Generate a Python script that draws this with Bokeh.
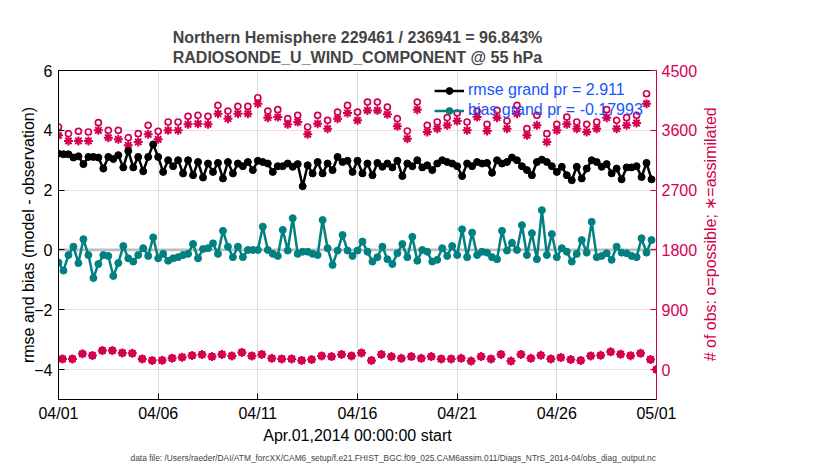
import numpy as np
from bokeh.plotting import figure
from bokeh.layouts import row
from bokeh.models import (LinearAxis, Range1d, FixedTicker, Span, Legend,
                          LegendItem, Title, ColumnDataSource, Label)
from bokeh.embed import file_html
from bokeh.resources import INLINE

# ---------------- data ----------------
title_text = "Northern Hemisphere 229461 / 236941 = 96.843%\nRADIOSONDE_U_WIND_COMPONENT @ 55 hPa"
x_tick_days = [0, 5, 10, 15, 20, 25, 30]
x_tick_labels = ["04/01", "04/06", "04/11", "04/16", "04/21", "04/26", "05/01"]
left_ticks = [-4, -2, 0, 2, 4, 6]
right_ticks = [0, 900, 1800, 2700, 3600, 4500]

# rmse / bias every 6 hours (prior/posterior sawtooth), days since Apr 1
rmse = [3.22, 3.20, 3.20, 3.09, 3.13, 2.87, 3.11, 3.11, 3.09, 2.72, 3.11, 3.04, 3.17, 2.76, 3.31, 2.76,
        3.11, 2.63, 3.11, 3.53, 3.11, 2.61, 3.00, 2.80, 3.00, 2.56, 3.00, 2.50, 2.94, 2.42, 2.89,
        2.61, 2.91, 2.39, 2.94, 2.56, 2.89, 2.80, 2.94, 2.67, 2.98, 2.94, 2.89, 2.61, 2.80, 2.80, 2.89,
        2.78, 2.87, 2.13, 2.83, 2.56, 2.94, 2.56, 2.89, 2.67, 3.11, 2.94, 2.98, 2.61, 2.98, 2.56, 2.89,
        2.50, 2.91, 2.78, 2.89, 2.76, 2.98,
        2.47, 2.89, 2.80, 3.00, 2.76, 2.83, 2.67, 2.89, 3.00, 2.94, 2.89, 2.80, 2.47, 2.89, 2.80, 2.94,
        2.89, 2.91, 2.58, 3.00, 2.89, 2.94, 3.09, 3.00, 2.80, 2.67, 2.50, 2.94, 3.02, 2.94, 2.80, 2.61,
        2.78, 2.50, 2.33, 2.78, 2.39, 2.72, 3.00, 2.94,
        2.78, 2.87, 2.56, 2.72, 2.36, 2.76, 2.76, 2.80, 2.44, 2.91, 2.36]
bias = [-0.42, -0.69, -0.17, 0.11, -0.44, 0.36, -0.17, -0.94, -0.47, -0.17, -0.20, -0.87, -0.44, 0.13,
        -0.28, -0.39, -0.17, 0.06, -0.20, 0.42, -0.28, -0.13, -0.36, -0.28, -0.24, -0.17, -0.13, 0.20, -0.28,
        0.03, 0.06, 0.22, -0.13, 0.64, 0.11, -0.24, 0.11, -0.24, 0.00, 0.00, 0.00, 0.78, 0.00, -0.13, -0.20,
        0.67, -0.02, 1.06, -0.13, -0.06, -0.06, -0.13, -0.17, 1.00, 0.06, -0.50, -0.02, 0.50, -0.02, -0.20,
        -0.02, 0.28, -0.06, -0.39, -0.24, 0.11, -0.31, -0.47, -0.11,
        0.20, -0.24, 0.44, -0.36, 0.00, -0.06, -0.39, -0.33, 0.06, -0.20, 0.13, -0.17, 0.69, -0.24, 0.58,
        -0.17, -0.06, -0.09, -0.24, -0.31, 0.64, -0.02, 0.24, 0.00, 0.83, -0.17, 0.56, -0.31, 1.33, -0.17,
        0.53, -0.24, 0.06, -0.06, -0.39, -0.13, 0.33, -0.09, 0.94, -0.24, -0.20, -0.11, -0.33, 0.11, -0.09,
        -0.11, -0.20, -0.24, 0.39, -0.09, 0.33]

# observation counts every 12 hours
obs_possible = [3650, 3550, 3585, 3575, 3715, 3600, 3600, 3490, 3550, 3675, 3585, 3725, 3725, 3810, 3825,
                3810, 3975, 3890, 3960, 3960, 4090, 3890, 3910, 3775, 3825, 3650, 3825, 3750, 3875, 3975,
                3875, 4025, 4025, 3950, 3775, 3590, 4025, 3675, 3725, 3790, 3860, 3725, 3890, 3690, 3900,
                3740, 3975, 3625, 3825, 3550, 3690, 3800, 3725, 3690, 3725, 3910, 3750, 3790, 3825, 4150, 0]
obs_assimilated = [3525, 3440, 3440, 3440, 3600, 3490, 3465, 3375, 3425, 3540, 3465, 3600, 3600, 3690, 3700,
                   3690, 3850, 3775, 3850, 3850, 4000, 3790, 3800, 3690, 3725, 3540, 3700, 3625, 3775, 3860,
                   3750, 3900, 3900, 3840, 3660, 3475, 3910, 3575, 3625, 3675, 3740, 3600, 3800, 3590, 3790,
                   3625, 3850, 3525, 3675, 3425, 3600, 3690, 3625, 3575, 3625, 3790, 3625, 3675, 3710, 4000, 0]
obs_posterior = [160, 160, 238, 212, 286, 286, 250, 245, 160, 137, 139, 172, 186, 212, 226, 196, 228, 205,
                 259, 205, 228, 169, 160, 160, 138, 151, 205, 196, 228, 205, 250, 138, 228, 196, 169, 196,
                 169, 196, 160, 160, 169, 129, 196, 160, 228, 129, 228, 169, 214, 160, 182, 151, 138, 205,
                 214, 268, 232, 210, 245, 152]

t_rmse = np.arange(len(rmse)) * 0.25
t_obs = np.arange(len(obs_possible)) * 0.5
t_post = np.arange(len(obs_posterior)) * 0.5 + 0.2

right_label = "# of obs: o=possible; \u2217=assimilated"
footer_text = "data file: /Users/raeder/DAI/ATM_forcXX/CAM6_setup/f.e21.FHIST_BGC.f09_025.CAM6assim.011/Diags_NTrS_2014-04/obs_diag_output.nc"

# ---------------- styling ----------------
FONT = "Liberation Sans"
CRIMSON = "#D4004F"
TEAL = "#008080"
BLUE = "#1455FF"

W, H = 700, 466
p = figure(width=W, height=H, x_range=Range1d(0, 30), y_range=Range1d(-5, 6),
           output_backend="svg", toolbar_location=None,
           min_border_left=58, min_border_right=W - 656, min_border_top=70, min_border_bottom=H - 399)
p.extra_y_ranges = {"obs": Range1d(-450, 4500)}

p.title.text = title_text
p.title.align = "center"
p.title.text_font = FONT
p.title.text_font_size = "16px"
p.title.text_font_style = "bold"
p.title.text_line_height = 1.2
p.title.standoff = 9

p.outline_line_color = "black"
p.outline_line_width = 1
p.background_fill_color = "white"
p.border_fill_color = "white"

# grids
p.xgrid.grid_line_color = "#D9D9D9"
p.ygrid.grid_line_color = "#F7D9E4"
p.ygrid.ticker = FixedTicker(ticks=left_ticks)

# zero line
p.add_layout(Span(location=0, dimension="width", line_color="#BEBEBE", line_width=2.8, level="underlay"))

# x axis
xa = p.xaxis[0]
xa.ticker = FixedTicker(ticks=x_tick_days)
xa.major_label_overrides = {d: lab for d, lab in zip(x_tick_days, x_tick_labels)}
xa.axis_label = "Apr.01,2014 00:00:00 start"

# left axis
ya = p.yaxis[0]
ya.ticker = FixedTicker(ticks=left_ticks)
ya.axis_label = "rmse and bias (model - observation)"

for ax in (xa, ya):
    ax.axis_line_color = "black"
    ax.major_tick_line_color = "black"
    ax.major_tick_in = 6
    ax.major_tick_out = 0
    ax.minor_tick_line_color = None
    ax.major_label_text_font = FONT
    ax.major_label_text_font_size = "16px"
    ax.major_label_text_color = "black"
    ax.axis_label_text_font = FONT
    ax.axis_label_text_font_size = "16px"
    ax.axis_label_text_font_style = "normal"
    ax.axis_label_text_color = "black"
xa.major_label_standoff = 5
xa.axis_label_standoff = 2
ya.major_label_standoff = 6
ya.axis_label_standoff = -6

# right axis
ra = LinearAxis(y_range_name="obs", ticker=FixedTicker(ticks=right_ticks))
ra.axis_line_color = CRIMSON
ra.major_tick_line_color = CRIMSON
ra.major_tick_in = 6
ra.major_tick_out = 0
ra.minor_tick_line_color = None
ra.major_label_text_font = FONT
ra.major_label_text_font_size = "16px"
ra.major_label_text_color = CRIMSON
ra.major_label_standoff = 5
p.add_layout(ra, "right")

# footer
foot = Title(text=footer_text, align="left", offset=72, text_font=FONT, text_font_size="8.4px",
             text_font_style="normal", standoff=8)
p.add_layout(foot, "below")

# counts
src_obs = ColumnDataSource(dict(t=t_obs, poss=obs_possible, used=obs_assimilated))
src_post = ColumnDataSource(dict(t=t_post, n=obs_posterior))
p.scatter("t", "poss", source=src_obs, y_range_name="obs", marker="circle", size=6,
          fill_color="white", line_color=CRIMSON, line_width=1.7)
p.scatter("t", "used", source=src_obs, y_range_name="obs", marker="asterisk", size=9,
          line_color=CRIMSON, line_width=2)
p.scatter("t", "n", source=src_post, y_range_name="obs", marker="circle", size=6,
          fill_color="white", line_color=CRIMSON, line_width=1.7)
p.scatter("t", "n", source=src_post, y_range_name="obs", marker="asterisk", size=9,
          line_color=CRIMSON, line_width=2)

# rmse / bias
src = ColumnDataSource(dict(t=t_rmse, rmse=rmse, bias=bias))
l_rmse = p.line("t", "rmse", source=src, line_color="black", line_width=2.5)
s_rmse = p.scatter("t", "rmse", source=src, marker="circle", size=7, fill_color="black", line_color="black")
l_bias = p.line("t", "bias", source=src, line_color=TEAL, line_width=2.5)
s_bias = p.scatter("t", "bias", source=src, marker="circle", size=7, fill_color=TEAL, line_color=TEAL)

legend = Legend(items=[LegendItem(label="rmse grand pr = 2.911", renderers=[l_rmse, s_rmse]),
                       LegendItem(label="bias grand pr = -0.17993", renderers=[l_bias, s_bias])],
                location=(376, 280))
legend.border_line_alpha = 0
legend.background_fill_alpha = 0
legend.label_text_color = BLUE
legend.label_text_font = FONT
legend.label_text_font_size = "16px"
legend.glyph_width = 30
legend.glyph_height = 17
legend.label_height = 17
legend.spacing = 2
legend.padding = 0
legend.margin = 0
legend.label_standoff = 4
p.add_layout(legend)

# narrow side panel carrying the right-axis label (reads bottom-to-top)
SW = 40
side = figure(width=SW, height=H, x_range=Range1d(0, SW), y_range=Range1d(0, H),
              output_backend="svg", toolbar_location=None, x_axis_type=None, y_axis_type=None,
              min_border_left=0, min_border_right=0, min_border_top=0, min_border_bottom=0)
side.title.visible = False
side.outline_line_color = None
side.xgrid.visible = False
side.ygrid.visible = False
side.add_layout(Label(x=10, y=H - 232, text=right_label, angle=np.pi / 2,
                      text_align="center", text_baseline="middle",
                      text_font=FONT, text_font_size="16px", text_color=CRIMSON))

layout = row(p, side, spacing=0)
open("out.html", "w").write(file_html(layout, INLINE))
